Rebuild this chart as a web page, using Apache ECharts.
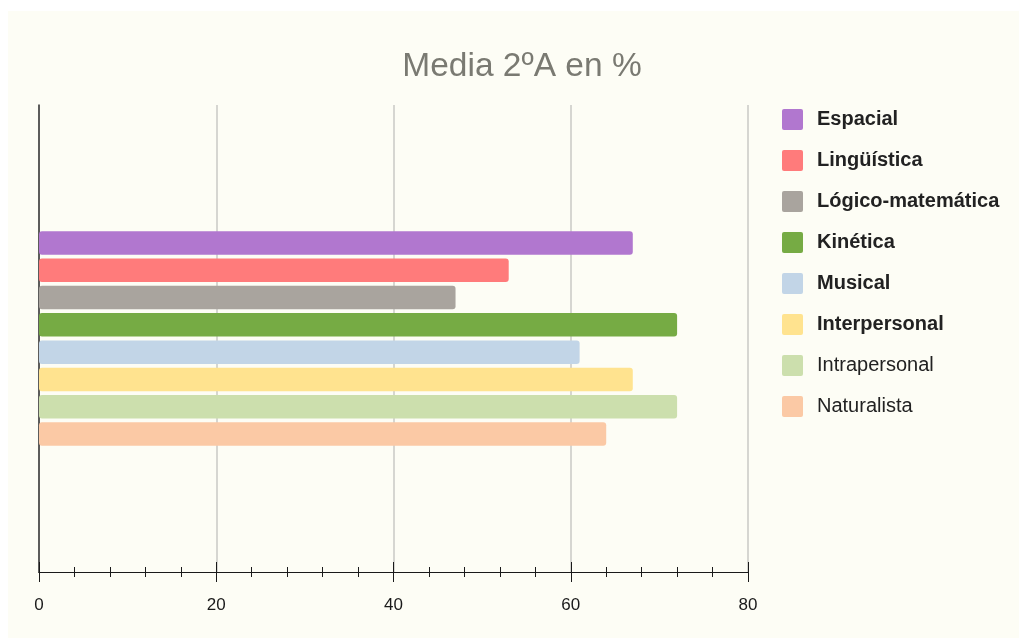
<!DOCTYPE html>
<html>
<head>
<meta charset="utf-8">
<script src="https://cdn.jsdelivr.net/npm/echarts@6/dist/echarts.min.js"></script>
<style>
  html, body { margin: 0; padding: 0; background: #ffffff; }
  #wrap { position: relative; width: 1019px; height: 639px; overflow: hidden; }
  #bg { position: absolute; left: 8px; top: 11px; right: 0; bottom: 1px; background: #fdfdf5; }
  #chart { position: absolute; left: 0; top: 0; width: 1019px; height: 639px; }
</style>
</head>
<body>
<div id="wrap"><div id="bg"></div><div id="chart"></div></div>
<script>
// Average scores per intelligence type for group 2ºA, in percent
const titleText = 'Media 2ºA en %';
const categories = ['Media 2ºA'];
const seriesNames = ['Espacial', 'Lingüística', 'Lógico-matemática', 'Kinética', 'Musical', 'Interpersonal', 'Intrapersonal', 'Naturalista'];
const seriesValues = [67, 53, 47, 72, 61, 67, 72, 64];
const seriesColors = ['#b177cf', '#ff7b7b', '#a9a49e', '#76ab44', '#c2d5e7', '#ffe38f', '#ccdfad', '#fbc9a5'];
const boldLegend = [true, true, true, true, true, true, false, false];
const axisMin = 0;
const axisMax = 80;
const axisStep = 20;

const FONT = '"Liberation Sans", Arial, sans-serif';
// square legend swatch with slightly rounded corners
const SWATCH = 'path://M2,0H19A2,2 0 0 1 21,2V19A2,2 0 0 1 19,21H2A2,2 0 0 1 0,19V2A2,2 0 0 1 2,0Z';

const chart = echarts.init(document.getElementById('chart'), null, { renderer: 'canvas' });

const series = seriesNames.map((name, i) => ({
  name: name,
  type: 'bar',
  xAxisIndex: 0,
  yAxisIndex: 0,
  barWidth: 23.5,
  barGap: '16%',
  data: [seriesValues[i]],
  itemStyle: { color: seriesColors[i], borderRadius: 3 },
  emphasis: { disabled: true }
}));

const baseX = {
  type: 'value',
  position: 'bottom',
  min: axisMin,
  max: axisMax,
  interval: axisStep
};

const tickLine = { color: '#1a1a1a', width: 1 };

chart.setOption({
  animation: false,
  textStyle: { fontFamily: FONT },
  title: {
    text: titleText,
    left: 517,
    top: 45,
    textAlign: 'center',
    textStyle: { fontFamily: FONT, fontSize: 33.5, fontWeight: 'normal', color: '#7a7a72' }
  },
  legend: {
    orient: 'vertical',
    left: 777,
    top: 104,
    icon: SWATCH,
    itemWidth: 21,
    itemHeight: 21,
    itemGap: 20,
    selectedMode: false,
    data: seriesNames.map((name, i) => ({
      name: name,
      textStyle: {
        fontFamily: FONT,
        fontSize: 20,
        fontWeight: boldLegend[i] ? 'bold' : 'normal',
        color: '#222222',
        padding: [0, 0, 0, 9]
      }
    }))
  },
  grid: {
    left: 39,
    right: 271,
    top: 105,
    bottom: 67,
    outerBoundsMode: 'none'
  },
  xAxis: [
    // ticks pointing up into the plot, plus labels and grid lines
    Object.assign({}, baseX, {
      axisLine: { show: true, lineStyle: tickLine },
      axisTick: { show: true, inside: true, length: 10, lineStyle: tickLine },
      minorTick: { show: true, splitNumber: 5, length: 5, lineStyle: tickLine },
      axisLabel: { show: true, margin: 25, fontFamily: FONT, fontSize: 17, color: '#1a1a1a' },
      splitLine: { show: true, lineStyle: { color: '#c9c9c4', width: 1.5 } }
    }),
    // same scale, ticks pointing down so they cross the axis line
    Object.assign({}, baseX, {
      axisLine: { show: true, lineStyle: tickLine },
      axisTick: { show: true, inside: false, length: 10, lineStyle: tickLine },
      minorTick: { show: true, splitNumber: 5, length: 5, lineStyle: tickLine },
      axisLabel: { show: false },
      splitLine: { show: false }
    })
  ],
  yAxis: {
    type: 'category',
    data: categories,
    inverse: true,
    axisLine: { show: true, lineStyle: { color: '#333333', width: 1.5 } },
    axisTick: { show: false },
    axisLabel: { show: false },
    splitLine: { show: false }
  },
  series: series
});
</script>
</body>
</html>
